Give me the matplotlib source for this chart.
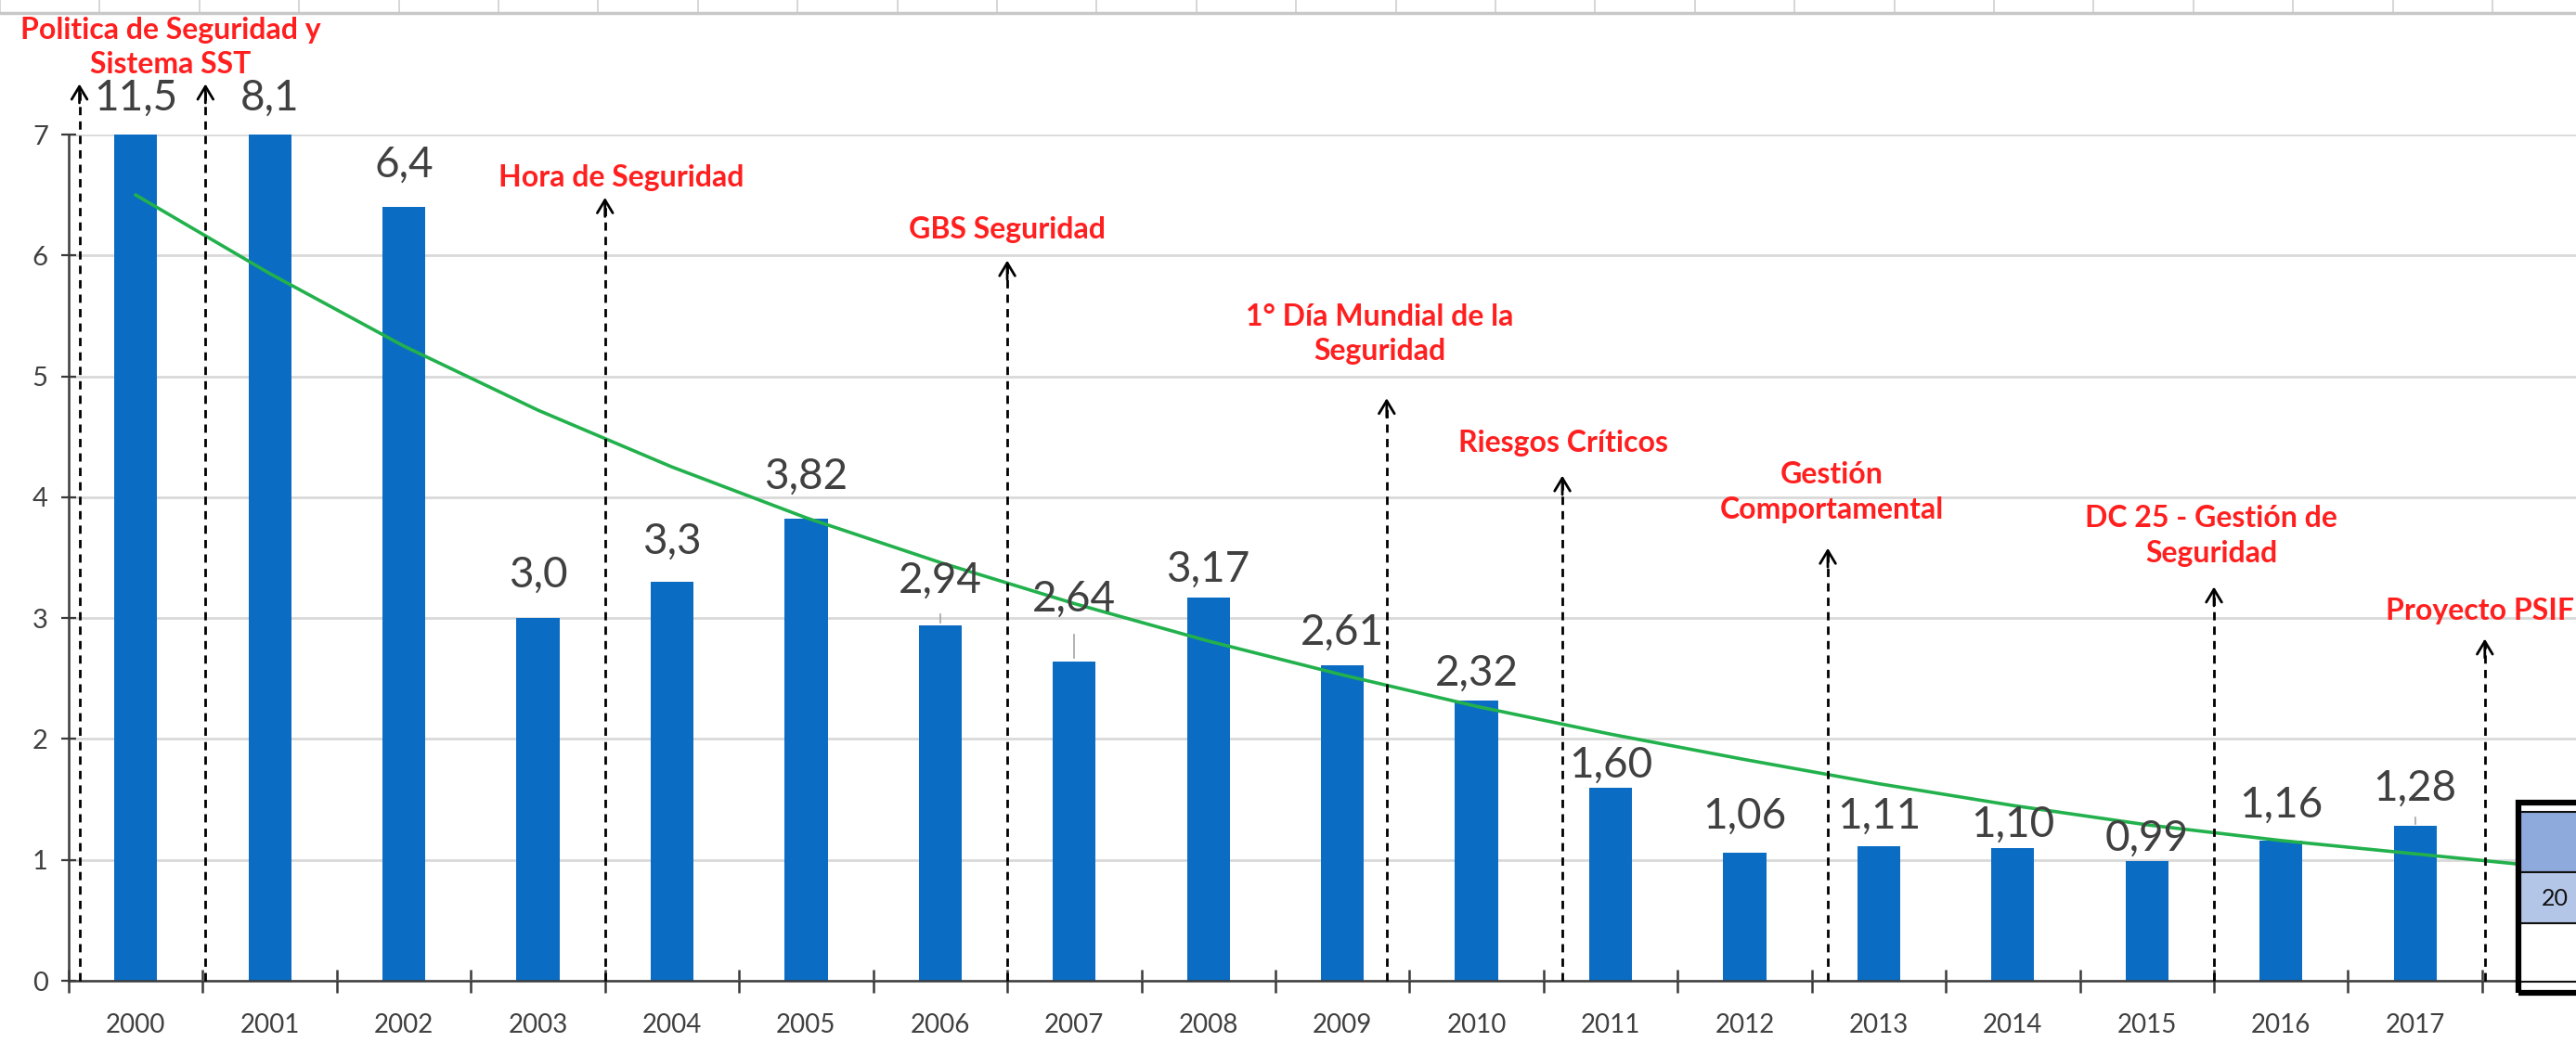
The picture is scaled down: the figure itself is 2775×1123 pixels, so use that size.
import matplotlib
matplotlib.use("Agg")
import matplotlib.pyplot as plt
from matplotlib.patches import Rectangle
from matplotlib.ticker import FixedLocator, MultipleLocator
import numpy as np

# data
years = ["2000", "2001", "2002", "2003", "2004", "2005", "2006", "2007", "2008",
         "2009", "2010", "2011", "2012", "2013", "2014", "2015", "2016", "2017"]
rates = [11.5, 8.1, 6.4, 3.0, 3.3, 3.82, 2.94, 2.64, 3.17,
         2.61, 2.32, 1.60, 1.06, 1.11, 1.10, 0.99, 1.16, 1.28]
rate_labels = ["11,5", "8,1", "6,4", "3,0", "3,3", "3,82", "2,94", "2,64", "3,17",
               "2,61", "2,32", "1,60", "1,06", "1,11", "1,10", "0,99", "1,16", "1,28"]
# exponential trend line as read at each year (last point = 2018)
trend = [6.5, 5.85, 5.25, 4.72, 4.25, 3.83, 3.46, 3.12, 2.81, 2.53,
         2.27, 2.04, 1.83, 1.63, 1.45, 1.29, 1.16, 1.05, 0.94]

events = ["Politica de Seguridad y\nSistema SST", "Hora de Seguridad", "GBS Seguridad",
          "1° Día Mundial de la\nSeguridad", "Riesgos Críticos", "Gestión\nComportamental",
          "DC 25 - Gestión de\nSeguridad", "Proyecto PSIF"]
# arrow positions (category units) and arrow tip heights
arrow_x = [-0.42, 0.52, 3.5, 6.5, 9.33, 10.64, 12.62, 15.5, 17.52]
arrow_top = [7.44, 7.44, 6.5, 5.98, 4.84, 4.2, 3.6, 3.28, 2.85]

# layout of annotation texts
event_pos = [(0.26, 7.72), (3.62, 6.64), (6.5, 6.21), (9.28, 5.35), (10.65, 4.45),
             (12.65, 4.04), (15.48, 3.68), (16.78, 3.06)]
label_dy = [0.30, 0.30, 0.35, 0.36, 0.33, 0.35, 0.37, 0.52, 0.23,
            0.27, 0.22, 0.18, 0.30, 0.25, 0.19, 0.19, 0.29, 0.31]

W, H = 2775, 1123
fig = plt.figure(figsize=(W / 100, H / 100), dpi=100)
plt.rcParams["font.family"] = ["Lato", "DejaVu Sans"]

ax = fig.add_axes([74 / W, 66 / H, 1 - 74 / W, (1057 - 145) / H])
x = np.arange(len(years))
ymax = 7

ax.set_xlim(-0.5, 18.2)
ax.set_ylim(0, ymax)

ax.bar(x, rates, width=0.32, color="#0B6CC3", zorder=2)

ax.plot(np.arange(len(trend)), trend, color="#22B14C", lw=2.6, zorder=3)

for i, (v, lab) in enumerate(zip(rates, rate_labels)):
    ax.text(x[i], min(v, ymax) + label_dy[i], lab, ha="center", va="center",
            fontsize=33, color="#404040", zorder=5, clip_on=False)
# leader lines for the lifted labels
ax.plot([7.0, 7.0], [2.67, 2.86], color="#A6A6A6", lw=1.2, zorder=4)
ax.plot([6.0, 6.0], [2.96, 3.03], color="#A6A6A6", lw=1.2, zorder=4)
ax.plot([17.0, 17.0], [1.30, 1.35], color="#A6A6A6", lw=1.2, zorder=4)

# event arrows
for ax_x, top in zip(arrow_x, arrow_top):
    ax.plot([ax_x, ax_x], [0, top - 0.05], color="black", lw=2.0,
            dashes=(3.2, 2.4), clip_on=False, zorder=4)
    ax.annotate("", xy=(ax_x, top), xytext=(ax_x, top - 0.2),
                arrowprops=dict(arrowstyle="->,head_length=0.5,head_width=0.3",
                                color="black", lw=2.0, mutation_scale=20),
                annotation_clip=False, zorder=4)

for i, (txt, (tx, ty)) in enumerate(zip(events, event_pos)):
    ha = "left" if i == len(events) - 1 else "center"
    ax.text(tx, ty, txt, ha=ha, va="center", fontsize=23, fontweight="bold",
            color="#FF1F1F", linespacing=1.35, zorder=6, clip_on=False)

# axes styling
for s in ["top", "right"]:
    ax.spines[s].set_visible(False)
ax.spines["left"].set_color("#3A3A3A")
ax.spines["bottom"].set_color("#3A3A3A")
ax.spines["left"].set_linewidth(1.8)
ax.spines["bottom"].set_linewidth(1.8)

ax.set_yticks(range(0, ymax + 1))
ax.tick_params(axis="y", direction="inout", length=12, width=1.6, color="#3A3A3A",
               labelsize=21, labelcolor="#404040", pad=10)
ax.yaxis.grid(True, color="#D9D9D9", lw=2.0, zorder=0)
ax.set_axisbelow(True)

ax.set_xticks(x)
ax.set_xticklabels(years)
ax.xaxis.set_minor_locator(FixedLocator(np.arange(-0.5, 18.0, 1.0)))
ax.tick_params(axis="x", which="major", length=0, labelsize=20,
               labelcolor="#404040", pad=25)
ax.tick_params(axis="x", which="minor", direction="inout", length=18, width=1.8,
               color="#3A3A3A")

# thin line with ticks at the very top (cropped strip of the source image)
top = fig.add_axes([0, 1 - 14 / H, 1, 1 / H])
top.set_xlim(0, W)
top.set_ylim(0, 1)
for s in ["top", "right", "left"]:
    top.spines[s].set_visible(False)
top.spines["bottom"].set_color("#C8C8C8")
top.spines["bottom"].set_linewidth(2.5)
top.xaxis.set_major_locator(MultipleLocator(107.4))
top.tick_params(axis="x", direction="in", length=10, width=1.2, color="#D0D0D0",
                labelbottom=False)
top.set_yticks([])
top.patch.set_alpha(0)

# cut-off table at the right edge
def px_rect(x0, y0, x1, y1, **kw):
    r = Rectangle((x0 / W, 1 - y1 / H), (x1 - x0) / W, (y1 - y0) / H,
                  transform=fig.transFigure, **kw)
    fig.patches.append(r)
    return r

tx0 = 2713
px_rect(tx0, 865, W + 20, 1070, facecolor="white", edgecolor="none", zorder=10)
px_rect(tx0, 875, W + 20, 940, facecolor="#8EA9DB", edgecolor="#111111", lw=1.5, zorder=11)
px_rect(tx0, 940, W + 20, 995, facecolor="#B4C6E7", edgecolor="#111111", lw=1.5, zorder=11)
px_rect(tx0, 995, W + 20, 1058, facecolor="white", edgecolor="#111111", lw=1.5, zorder=11)
px_rect(tx0, 865, W + 20, 1070, facecolor="none", edgecolor="black", lw=4.5, zorder=12)
# only the first digits of the table's year are visible in the source
fig.text(2738 / W, 1 - 968 / H, "20", ha="left", va="center", fontsize=18,
         color="#111111", zorder=13)

fig.savefig("out.png", dpi=100)
